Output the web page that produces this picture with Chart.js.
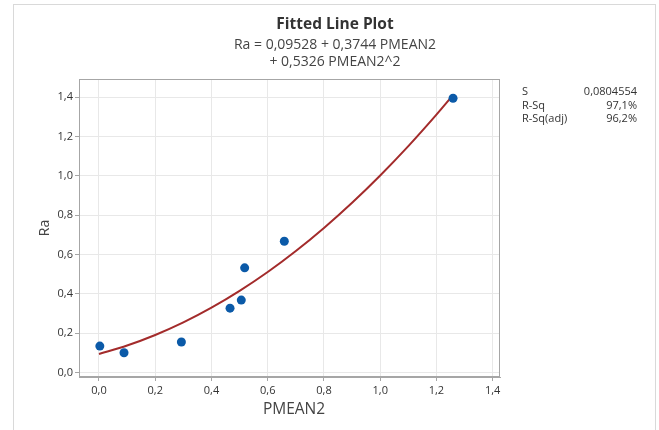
<!DOCTYPE html>
<html>
<head>
<meta charset="utf-8">
<script src="https://cdn.jsdelivr.net/npm/chart.js@4/dist/chart.umd.min.js"></script>
<style>
  html, body { margin: 0; padding: 0; background: #fff; }
  #wrap { width: 659px; height: 430px; }
</style>
</head>
<body>
<div id="wrap"><canvas id="chart" width="659" height="430"></canvas></div>
<script>
// observed values
const pmean2 = [0.003, 0.089, 0.293, 0.466, 0.506, 0.518, 0.659, 1.259];
const ra = [0.135, 0.101, 0.156, 0.328, 0.369, 0.533, 0.668, 1.395];

// fitted curve
const fitX = [0, 0.1, 0.2, 0.3, 0.4, 0.5, 0.6, 0.7, 0.8, 0.9, 1.0, 1.1, 1.2, 1.26];
const fitY = [0.0953, 0.138, 0.1915, 0.2555, 0.3303, 0.4157, 0.5116, 0.6184, 0.7357, 0.8637, 1.0023, 1.1515, 1.3115, 1.4126];

const xTicks = [0, 0.2, 0.4, 0.6, 0.8, 1.0, 1.2, 1.4];
const yTicks = [0, 0.2, 0.4, 0.6, 0.8, 1.0, 1.2, 1.4];

const titleText = "Fitted Line Plot";
const subtitleLines = ["Ra = 0,09528 + 0,3744 PMEAN2", "+ 0,5326 PMEAN2^2"];
const statLabels = ["S", "R-Sq", "R-Sq(adj)"];
const statValues = ["0,0804554", "97,1%", "96,2%"];
const xTitle = "PMEAN2";
const yTitle = "Ra";

const FONT = "'Segoe UI', 'Open Sans', 'Noto Sans', sans-serif";

function fmt(v) {
  return v.toFixed(1).replace(".", ",");
}

const decor = {
  id: "decor",
  beforeDraw(chart) {
    const ctx = chart.ctx;
    ctx.save();
    ctx.strokeStyle = "#d9d9d9";
    ctx.lineWidth = 1;
    ctx.strokeRect(13.5, 4.5, 642, 500);
    ctx.restore();
  },
  afterDraw(chart) {
    const ctx = chart.ctx;
    const a = chart.chartArea;
    ctx.save();
    // frame
    ctx.strokeStyle = "#a6a6a6";
    ctx.lineWidth = 1;
    ctx.strokeRect(a.left + 0.5, a.top + 0.5, a.right - a.left - 1, a.bottom - a.top - 1);

    ctx.textAlign = "center";
    ctx.textBaseline = "middle";
    ctx.fillStyle = "#333";
    ctx.font = "bold 15.5px " + FONT;
    ctx.fillText(titleText, 335, 25);
    ctx.fillStyle = "#444";
    ctx.font = "14px " + FONT;
    ctx.fillText(subtitleLines[0], 335, 45);
    ctx.fillText(subtitleLines[1], 335, 62);

    // axis titles
    ctx.font = "15.5px " + FONT;
    ctx.fillText(xTitle, 294, 410);
    ctx.font = "14px " + FONT;
    ctx.save();
    ctx.translate(45, 228);
    ctx.rotate(-Math.PI / 2);
    ctx.fillText(yTitle, 0, 0);
    ctx.restore();

    // stats
    ctx.font = "11px " + FONT;
    ctx.fillStyle = "#333";
    for (let i = 0; i < statLabels.length; i++) {
      const y = 92 + i * 13.5;
      ctx.textAlign = "left";
      ctx.fillText(statLabels[i], 522, y);
      ctx.textAlign = "right";
      ctx.fillText(statValues[i], 637, y);
    }
    ctx.restore();
  }
};

function createChart() {
  const el = document.getElementById("chart");
  const ctx = el.getContext("2d");
  return new Chart(ctx, {
    type: "scatter",
    data: {
      datasets: [
        {
          label: "Ra",
          data: pmean2.map((x, i) => ({ x: x, y: ra[i] })),
          backgroundColor: "#0b5aa8",
          borderColor: "#0b5aa8",
          pointRadius: 4.5,
          pointBorderWidth: 0,
        },
        {
          label: "Fit",
          data: fitX.map((x, i) => ({ x: x, y: fitY[i] })),
          showLine: true,
          borderColor: "#a32b2b",
          borderWidth: 2,
          pointRadius: 0,
          cubicInterpolationMode: "monotone",
        },
      ],
    },
    options: {
      responsive: false,
      animation: false,
      layout: { padding: { left: 0, right: 159, top: 79, bottom: 13 } },
      plugins: {
        legend: { display: false },
        tooltip: { enabled: false },
      },
      scales: {
        x: {
          type: "linear",
          min: -0.0711,
          max: 1.426,
          afterBuildTicks: (s) => { s.ticks = xTicks.map((v) => ({ value: v })); },
          afterFit: (s) => { s.height = 40; },
          grid: { color: "#e8e8e8", tickColor: "#a6a6a6", tickLength: 4 },
          border: { color: "#a6a6a6" },
          ticks: {
            padding: 3,
            color: "#333",
            font: { family: FONT, size: 11 },
            callback: (v) => fmt(v),
          },
        },
        y: {
          type: "linear",
          min: -0.022,
          max: 1.493,
          afterBuildTicks: (s) => { s.ticks = yTicks.map((v) => ({ value: v })); },
          afterFit: (s) => { s.width = 79; },
          grid: { color: "#e8e8e8", tickColor: "#a6a6a6", tickLength: 4 },
          border: { color: "#a6a6a6" },
          ticks: {
            padding: 2,
            color: "#333",
            font: { family: FONT, size: 11 },
            callback: (v) => fmt(v),
          },
        },
      },
    },
    plugins: [decor],
  });
}

createChart();
</script>
</body>
</html>
